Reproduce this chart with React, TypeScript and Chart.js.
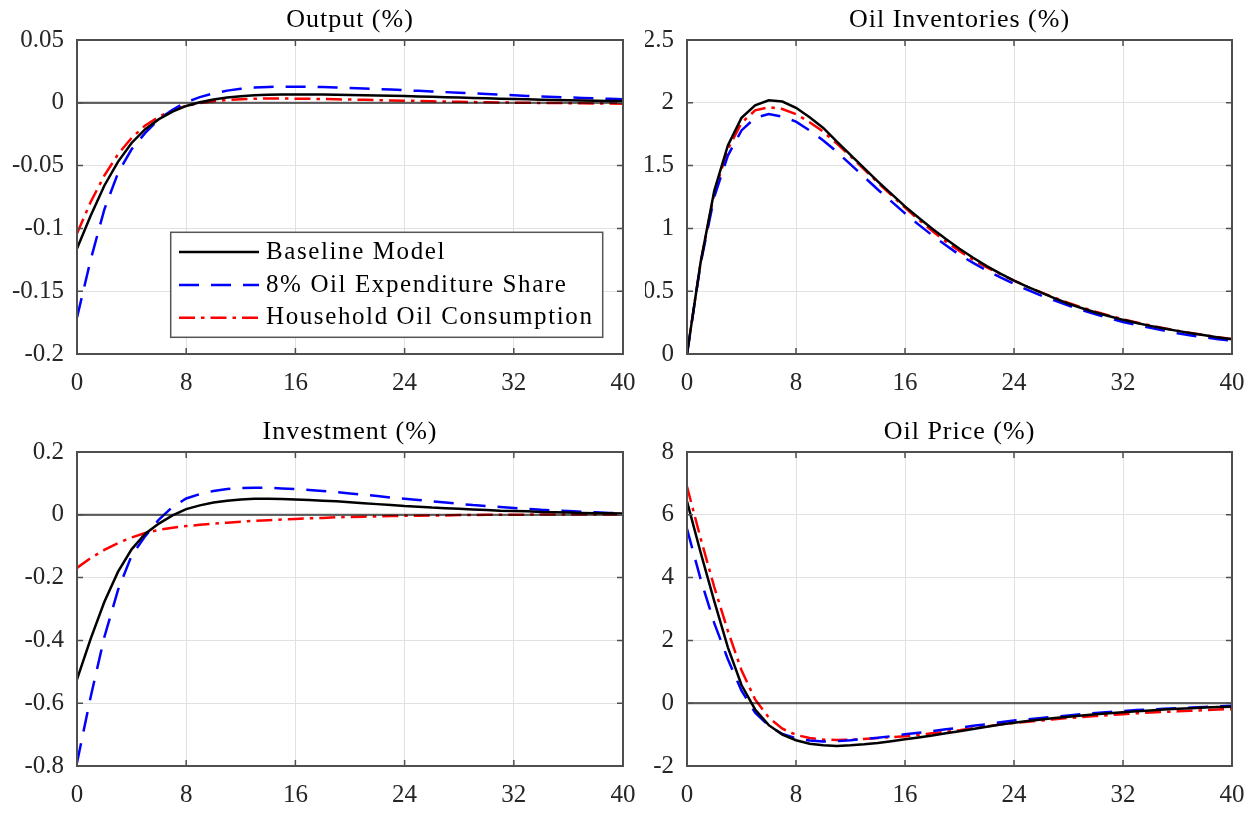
import React, { useEffect, useRef } from "react";
import { Chart, registerables } from "chart.js";

Chart.register(...registerables);

// ---------------- DATA ----------------
const quarters = [0, 1, 2, 3, 4, 5, 6, 7, 8, 9, 10, 11, 12, 13, 14, 15, 16, 17, 18, 19, 20, 21, 22, 23, 24, 25, 26, 27, 28, 29, 30, 31, 32, 33, 34, 35, 36, 37, 38, 39, 40];
const xTickStep = 8;

const seriesNames = ["Baseline Model", "8% Oil Expenditure Share", "Household Oil Consumption"];

const panelTitles = ["Output (%)", "Oil Inventories (%)", "Investment (%)", "Oil Price (%)"];

// Output (%)
const outputBaseline = [-0.116, -0.09, -0.066, -0.047, -0.032, -0.021, -0.013, -0.007, -0.0025, 0.0005, 0.0027, 0.0042, 0.0053, 0.006, 0.0064, 0.0066, 0.0067, 0.0067, 0.0066, 0.0065, 0.0063, 0.0061, 0.0059, 0.0056, 0.0054, 0.0051, 0.0048, 0.0045, 0.0042, 0.0039, 0.0036, 0.0033, 0.003, 0.0028, 0.0025, 0.0023, 0.0021, 0.0019, 0.0017, 0.0015, 0.0014];
const outputOilShare = [-0.171, -0.125, -0.085, -0.056, -0.037, -0.024, -0.013, -0.0055, 0.0005, 0.0045, 0.0075, 0.0097, 0.0112, 0.0121, 0.0126, 0.0128, 0.0128, 0.0127, 0.0125, 0.0122, 0.0118, 0.0114, 0.011, 0.0105, 0.01, 0.0095, 0.009, 0.0085, 0.008, 0.0075, 0.007, 0.0065, 0.006, 0.0055, 0.0051, 0.0047, 0.0043, 0.0039, 0.0035, 0.0032, 0.0029];
const outputHousehold = [-0.104, -0.079, -0.058, -0.041, -0.028, -0.018, -0.011, -0.006, -0.0025, -0.0002, 0.0013, 0.0023, 0.0029, 0.0032, 0.0034, 0.0034, 0.0033, 0.0032, 0.003, 0.0028, 0.0026, 0.0024, 0.0021, 0.0019, 0.0017, 0.0015, 0.0012, 0.001, 0.0008, 0.0006, 0.0004, 0.0003, 0.0001, 0, -0.0001, -0.0002, -0.0003, -0.0004, -0.0005, -0.0006, -0.0007];

// Oil Inventories (%)
const invtBaseline = [0, 0.73, 1.3, 1.66, 1.88, 1.98, 2.02, 2.01, 1.96, 1.885, 1.8, 1.69, 1.585, 1.48, 1.375, 1.275, 1.175, 1.085, 0.998, 0.915, 0.838, 0.766, 0.7, 0.64, 0.585, 0.535, 0.488, 0.443, 0.4, 0.364, 0.33, 0.3, 0.272, 0.247, 0.224, 0.203, 0.184, 0.166, 0.149, 0.132, 0.117];
const invtOilShare = [0, 0.72, 1.25, 1.58, 1.78, 1.88, 1.91, 1.89, 1.85, 1.78, 1.7, 1.61, 1.51, 1.41, 1.31, 1.215, 1.12, 1.03, 0.945, 0.865, 0.79, 0.725, 0.665, 0.61, 0.56, 0.51, 0.465, 0.425, 0.385, 0.35, 0.316, 0.284, 0.255, 0.23, 0.208, 0.186, 0.165, 0.148, 0.132, 0.118, 0.105];
const invtHousehold = [0, 0.73, 1.28, 1.63, 1.84, 1.94, 1.965, 1.95, 1.91, 1.845, 1.77, 1.675, 1.575, 1.47, 1.365, 1.265, 1.165, 1.07, 0.98, 0.895, 0.82, 0.75, 0.69, 0.635, 0.585, 0.535, 0.49, 0.447, 0.407, 0.37, 0.336, 0.305, 0.277, 0.251, 0.227, 0.205, 0.185, 0.167, 0.15, 0.134, 0.12];

// Investment (%)
const investBaseline = [-0.524, -0.395, -0.278, -0.182, -0.11, -0.06, -0.028, -0.002, 0.018, 0.03, 0.039, 0.045, 0.049, 0.051, 0.051, 0.05, 0.049, 0.047, 0.045, 0.043, 0.04, 0.037, 0.034, 0.031, 0.028, 0.026, 0.023, 0.021, 0.019, 0.017, 0.015, 0.013, 0.012, 0.011, 0.009, 0.008, 0.007, 0.006, 0.005, 0.005, 0.004];
const investOilShare = [-0.79, -0.58, -0.39, -0.24, -0.13, -0.068, -0.015, 0.025, 0.052, 0.066, 0.076, 0.082, 0.085, 0.086, 0.086, 0.084, 0.082, 0.079, 0.076, 0.072, 0.068, 0.064, 0.06, 0.055, 0.051, 0.047, 0.043, 0.039, 0.035, 0.031, 0.028, 0.025, 0.022, 0.019, 0.016, 0.014, 0.012, 0.01, 0.008, 0.006, 0.005];
const investHousehold = [-0.169, -0.138, -0.112, -0.09, -0.072, -0.058, -0.048, -0.041, -0.036, -0.032, -0.028, -0.025, -0.022, -0.019, -0.017, -0.015, -0.013, -0.011, -0.01, -0.008, -0.007, -0.006, -0.005, -0.004, -0.003, -0.003, -0.002, -0.002, -0.001, -0.001, 0, 0, 0.0005, 0.0005, 0.001, 0.001, 0.001, 0.001, 0.001, 0.001, 0.001];

// Oil Price (%)
const priceBaseline = [6.43, 4.8, 3.25, 1.78, 0.58, -0.2, -0.7, -1.0, -1.18, -1.29, -1.34, -1.36, -1.34, -1.31, -1.27, -1.21, -1.15, -1.09, -1.03, -0.96, -0.89, -0.82, -0.75, -0.68, -0.62, -0.57, -0.52, -0.47, -0.43, -0.39, -0.35, -0.32, -0.29, -0.26, -0.23, -0.2, -0.18, -0.16, -0.14, -0.12, -0.11];
const priceOilShare = [5.55, 3.95, 2.55, 1.4, 0.4, -0.3, -0.72, -0.98, -1.12, -1.19, -1.22, -1.21, -1.18, -1.14, -1.1, -1.05, -0.99, -0.94, -0.89, -0.83, -0.78, -0.72, -0.67, -0.61, -0.55, -0.51, -0.47, -0.43, -0.39, -0.35, -0.31, -0.28, -0.25, -0.22, -0.2, -0.18, -0.16, -0.14, -0.12, -0.1, -0.085];
const priceHousehold = [6.9, 5.25, 3.7, 2.3, 1.05, 0.12, -0.46, -0.81, -1.01, -1.11, -1.16, -1.17, -1.16, -1.14, -1.11, -1.08, -1.05, -1.01, -0.96, -0.91, -0.86, -0.8, -0.74, -0.68, -0.63, -0.59, -0.55, -0.51, -0.47, -0.44, -0.41, -0.38, -0.35, -0.32, -0.3, -0.28, -0.26, -0.24, -0.22, -0.2, -0.19];

// y-axis ranges: [min, max, step]
const yOutput = [-0.2, 0.05, 0.05];
const yInvt = [0, 2.5, 0.5];
const yInvest = [-0.8, 0.2, 0.2];
const yPrice = [-2, 8, 2];

// ---------------- STYLE ----------------
const SERIF = "'Liberation Serif', 'Times New Roman', serif";
const lineStyles = [
  { color: "#000000", dash: [] as number[] },
  { color: "#0000ff", dash: [20, 12] },
  { color: "#ff0000", dash: [16, 6, 3.5, 6] },
];

type PanelSpec = {
  title: string;
  series: number[][];
  y: number[];
  legend: boolean;
  rect: { left: number; top: number; width: number; height: number };
  axisW: number;
  axisH: number;
  padTop: number;
  padRight: number;
};

const fmt = (v: number) => String(Math.round(v * 1e6) / 1e6);

function makePlugin(spec: PanelSpec) {
  return {
    id: "matlabDecor",
    afterDatasetsDraw(chart: any) {
      const ctx = chart.ctx as CanvasRenderingContext2D;
      const ca = chart.chartArea;
      const xs = chart.scales.x;
      const ys = chart.scales.y;
      ctx.save();
      // zero line
      if (spec.y[0] < 0 && spec.y[1] > 0) {
        const y0 = ys.getPixelForValue(0);
        ctx.strokeStyle = "rgba(0,0,0,0.6)";
        ctx.lineWidth = 2.2;
        ctx.setLineDash([]);
        ctx.beginPath();
        ctx.moveTo(ca.left, y0);
        ctx.lineTo(ca.right, y0);
        ctx.stroke();
      }
      // frame
      ctx.strokeStyle = "#4f4f4f";
      ctx.lineWidth = 2;
      ctx.strokeRect(ca.left, ca.top, ca.right - ca.left, ca.bottom - ca.top);
      // inward ticks
      const tl = 6;
      ctx.lineWidth = 1.5;
      ctx.beginPath();
      xs.ticks.forEach((t: any) => {
        const px = xs.getPixelForValue(t.value);
        ctx.moveTo(px, ca.bottom);
        ctx.lineTo(px, ca.bottom - tl);
        ctx.moveTo(px, ca.top);
        ctx.lineTo(px, ca.top + tl);
      });
      ys.ticks.forEach((t: any) => {
        const py = ys.getPixelForValue(t.value);
        ctx.moveTo(ca.left, py);
        ctx.lineTo(ca.left + tl, py);
        ctx.moveTo(ca.right, py);
        ctx.lineTo(ca.right - tl, py);
      });
      ctx.stroke();
      // title
      ctx.fillStyle = "#000";
      ctx.font = `26px ${SERIF}`;
      (ctx as any).letterSpacing = "1px";
      ctx.textAlign = "center";
      ctx.textBaseline = "alphabetic";
      ctx.fillText(spec.title, (ca.left + ca.right) / 2, ca.top - 13);
      // legend
      if (spec.legend) {
        const w = 432;
        const h = 105;
        const right = ca.right - 20.3;
        const bottom = ca.bottom - 16.7;
        const left = right - w;
        const top = bottom - h;
        ctx.fillStyle = "#ffffff";
        ctx.fillRect(left, top, w, h);
        ctx.strokeStyle = "#555555";
        ctx.lineWidth = 1.5;
        ctx.strokeRect(left, top, w, h);
        const rows = [19.7, 52.7, 85.4];
        ctx.font = `25px ${SERIF}`;
        (ctx as any).letterSpacing = "1.6px";
        ctx.textAlign = "left";
        ctx.textBaseline = "middle";
        seriesNames.forEach((name, i) => {
          const ry = top + rows[i];
          ctx.strokeStyle = lineStyles[i].color;
          ctx.lineWidth = 2.5;
          ctx.setLineDash(lineStyles[i].dash);
          ctx.beginPath();
          ctx.moveTo(left + 8.3, ry);
          ctx.lineTo(left + 88.3, ry);
          ctx.stroke();
          ctx.setLineDash([]);
          ctx.fillStyle = "#000";
          ctx.fillText(name, left + 95.3, ry);
        });
      }
      (ctx as any).letterSpacing = "0px";
      ctx.restore();
    },
  };
}

function Panel({ spec }: { spec: PanelSpec }) {
  const ref = useRef<HTMLCanvasElement | null>(null);
  useEffect(() => {
    if (!ref.current) return;
    const chart = new Chart(ref.current, {
      type: "line",
      data: {
        datasets: spec.series.map((vals, i) => ({
          label: seriesNames[i],
          data: vals.map((v, k) => ({ x: quarters[k], y: v })),
          borderColor: lineStyles[i].color,
          borderDash: lineStyles[i].dash,
          borderWidth: 2.5,
          pointRadius: 0,
          tension: 0,
          fill: false,
        })),
      },
      options: {
        animation: false,
        responsive: false,
        maintainAspectRatio: false,
        devicePixelRatio: 1,
        events: [],
        layout: { padding: { top: spec.padTop, right: spec.padRight, left: 0, bottom: 0 } },
        plugins: {
          legend: { display: false },
          title: { display: false },
          tooltip: { enabled: false },
        },
        scales: {
          x: {
            type: "linear",
            min: quarters[0],
            max: quarters[quarters.length - 1],
            ticks: {
              stepSize: xTickStep,
              padding: 14,
              color: "#262626",
              font: { family: SERIF, size: 25 },
              maxRotation: 0,
              callback: (v: any) => fmt(Number(v)),
            },
            grid: { color: "#e1e1e1", lineWidth: 1, drawTicks: false },
            border: { display: false },
            afterFit: (s: any) => {
              s.height = spec.axisH;
            },
          },
          y: {
            type: "linear",
            min: spec.y[0],
            max: spec.y[1],
            ticks: {
              stepSize: spec.y[2],
              padding: 13,
              color: "#262626",
              font: { family: SERIF, size: 25 },
              callback: (v: any) => fmt(Number(v)),
            },
            grid: { color: "#e1e1e1", lineWidth: 1, drawTicks: false },
            border: { display: false },
            afterFit: (s: any) => {
              s.width = spec.axisW;
            },
          },
        },
      } as any,
      plugins: [makePlugin(spec)],
    });
    return () => chart.destroy();
  }, [spec]);
  const r = spec.rect;
  return (
    <canvas
      ref={ref}
      width={r.width}
      height={r.height}
      style={{ position: "absolute", left: r.left, top: r.top, width: r.width, height: r.height }}
    />
  );
}

// plot areas: left 77 / 687, right 623 / 1232, tops 40 / 452, bottoms 354 / 766
const panels: PanelSpec[] = [
  {
    title: panelTitles[0],
    series: [outputBaseline, outputOilShare, outputHousehold],
    y: yOutput,
    legend: true,
    rect: { left: 0, top: 0, width: 650, height: 410 },
    axisW: 77,
    axisH: 56,
    padTop: 40,
    padRight: 27,
  },
  {
    title: panelTitles[1],
    series: [invtBaseline, invtOilShare, invtHousehold],
    y: yInvt,
    legend: false,
    rect: { left: 645, top: 0, width: 614, height: 410 },
    axisW: 42,
    axisH: 56,
    padTop: 40,
    padRight: 27,
  },
  {
    title: panelTitles[2],
    series: [investBaseline, investOilShare, investHousehold],
    y: yInvest,
    legend: false,
    rect: { left: 0, top: 410, width: 650, height: 405 },
    axisW: 77,
    axisH: 49,
    padTop: 42,
    padRight: 27,
  },
  {
    title: panelTitles[3],
    series: [priceBaseline, priceOilShare, priceHousehold],
    y: yPrice,
    legend: false,
    rect: { left: 645, top: 410, width: 614, height: 405 },
    axisW: 42,
    axisH: 49,
    padTop: 42,
    padRight: 27,
  },
];

export default function App() {
  return (
    <div
      style={{
        position: "fixed",
        left: 0,
        top: 0,
        width: 1258,
        height: 815,
        background: "#ffffff",
        overflow: "hidden",
      }}
    >
      {panels.map((p, i) => (
        <Panel key={i} spec={p} />
      ))}
    </div>
  );
}
